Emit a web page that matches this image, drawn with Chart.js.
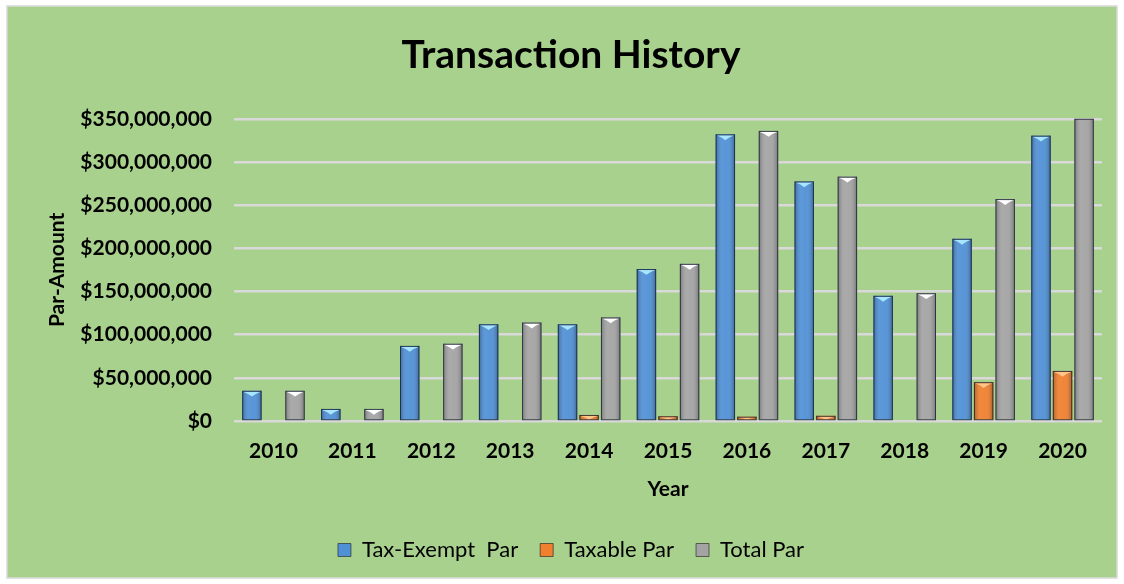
<!DOCTYPE html>
<html>
<head>
<meta charset="utf-8">
<script src="https://cdn.jsdelivr.net/npm/chart.js@4/dist/chart.umd.min.js"></script>
<style>
  html, body { margin: 0; padding: 0; background: #ffffff; }
  #wrap { position: absolute; left: 0; top: 0; width: 1124px; height: 584px; }
</style>
</head>
<body>
<div id="wrap"><canvas id="c" width="1124" height="584"></canvas></div>
<script>
const years = ['2010','2011','2012','2013','2014','2015','2016','2017','2018','2019','2020'];
const taxExemptPar = [35000000, 14000000, 87000000, 112000000, 112000000, 176000000, 332000000, 277500000, 145000000, 211000000, 330500000];
const taxablePar   = [0, 0, 1500000, 1500000, 7000000, 5500000, 5000000, 6000000, 1500000, 45000000, 58000000];
const totalPar     = [35000000, 14000000, 89500000, 114000000, 120000000, 182000000, 336000000, 283000000, 148000000, 257000000, 388500000];
const yTicks = [0, 50000000, 100000000, 150000000, 200000000, 250000000, 300000000, 350000000];

const FONT = "Lato, 'Liberation Sans', sans-serif";

const bgPlugin = {
  id: 'bg',
  beforeDraw(chart) {
    const c = chart.ctx;
    c.save();
    c.fillStyle = '#a9d18e';
    c.fillRect(7, 6, 1110, 572);
    c.strokeStyle = '#d9d9d9';
    c.lineWidth = 1.5;
    c.strokeRect(7, 6, 1110, 572);
    c.restore();
  }
};

const capColors = ['#a8e6ff', '#ffc68a', '#ffffff'];
const barFx = {
  id: 'barFx',
  afterDatasetsDraw(chart) {
    const c = chart.ctx;
    const area = chart.chartArea;
    c.save();
    c.beginPath();
    c.rect(area.left, area.top - 1, area.right - area.left, area.bottom - area.top + 1);
    c.clip();
    chart.data.datasets.forEach((ds, di) => {
      const meta = chart.getDatasetMeta(di);
      meta.data.forEach((bar) => {
        const w = bar.width, x0 = bar.x - w / 2, x1 = bar.x + w / 2;
        const top = Math.max(bar.y, area.top), base = bar.base;
        const h = base - top;
        if (h < 0.5) return;
        const g = c.createLinearGradient(x0, 0, x1, 0);
        g.addColorStop(0, 'rgba(0,0,0,0.28)');
        g.addColorStop(0.35, 'rgba(255,255,255,0.08)');
        g.addColorStop(0.6, 'rgba(255,255,255,0.05)');
        g.addColorStop(1, 'rgba(0,0,0,0.30)');
        c.fillStyle = g;
        c.fillRect(x0, top, w, h);
        if (bar.y >= area.top && h > 3) {
          const ch = Math.min(w * 0.3, h);
          c.fillStyle = capColors[di];
          c.beginPath();
          c.moveTo(x0 + 1, top + 1);
          c.lineTo(x1 - 1, top + 1);
          c.lineTo(bar.x + w * 0.2, top + ch * 0.55);
          c.lineTo(bar.x, top + ch);
          c.lineTo(bar.x - w * 0.2, top + ch * 0.55);
          c.closePath();
          c.fill();
        }
        c.strokeStyle = 'rgba(20,30,50,0.75)';
        c.lineWidth = 1;
        c.strokeRect(x0 + 0.5, top + 0.5, w - 1, h - 0.5);
      });
    });
    c.restore();
  }
};

new Chart(document.getElementById('c'), {
  type: 'bar',
  data: {
    labels: years,
    datasets: [
      { label: 'Tax-Exempt  Par', data: taxExemptPar, backgroundColor: '#4f90d6', borderWidth: 0 },
      { label: 'Taxable Par', data: taxablePar, backgroundColor: '#f07f2e', borderWidth: 0 },
      { label: 'Total Par', data: totalPar, backgroundColor: '#a3a3a3', borderWidth: 0 }
    ]
  },
  plugins: [bgPlugin, barFx],
  options: {
    responsive: false,
    animation: false,
    devicePixelRatio: 1,
    layout: { padding: { left: 40, right: 22, top: 32, bottom: 13 } },
    datasets: { bar: { categoryPercentage: 0.82, barPercentage: 0.9 } },
    plugins: {
      title: {
        display: true,
        text: 'Transaction History',
        color: '#000000',
        font: { family: FONT, size: 39, weight: 'bold' },
        padding: { top: 0, bottom: 40 }
      },
      legend: {
        position: 'bottom',
        labels: {
          color: '#000000',
          font: { family: FONT, size: 22 },
          boxWidth: 13, boxHeight: 13,
          padding: 22,
          generateLabels(chart) {
            const cols = ['#4f90d6', '#f07f2e', '#a3a3a3'];
            return chart.data.datasets.map((d, i) => ({
              text: d.label, fillStyle: cols[i], strokeStyle: 'rgba(30,30,30,0.6)', lineWidth: 1,
              hidden: false, datasetIndex: i, fontColor: '#000'
            }));
          }
        }
      },
      tooltip: { enabled: false }
    },
    scales: {
      x: {
        grid: { display: false, drawTicks: false },
        border: { display: false },
        ticks: { color: '#000', font: { family: FONT, size: 21, weight: 'bold' }, padding: 18 },
        title: { display: true, text: 'Year', color: '#000', font: { family: FONT, size: 21, weight: 'bold' }, padding: { top: 0, bottom: 15 } },
        afterFit(s) { s.height = 96; }
      },
      y: {
        min: 0, max: 350000000,
        afterBuildTicks(s) { s.ticks = yTicks.map(v => ({ value: v })); },
        grid: { color: '#d9d9d9', lineWidth: 2.5, drawTicks: false },
        border: { display: false },
        ticks: {
          color: '#000', font: { family: FONT, size: 21, weight: 'bold' }, padding: 22,
          callback: v => '$' + Number(v).toLocaleString('en-US')
        },
        title: { display: true, text: 'Par-Amount', color: '#000', font: { family: FONT, size: 21, weight: 'bold' }, padding: { top: 5, bottom: 0 } },
        afterFit(s) { s.width = 194; }
      }
    }
  }
});
</script>
</body>
</html>
